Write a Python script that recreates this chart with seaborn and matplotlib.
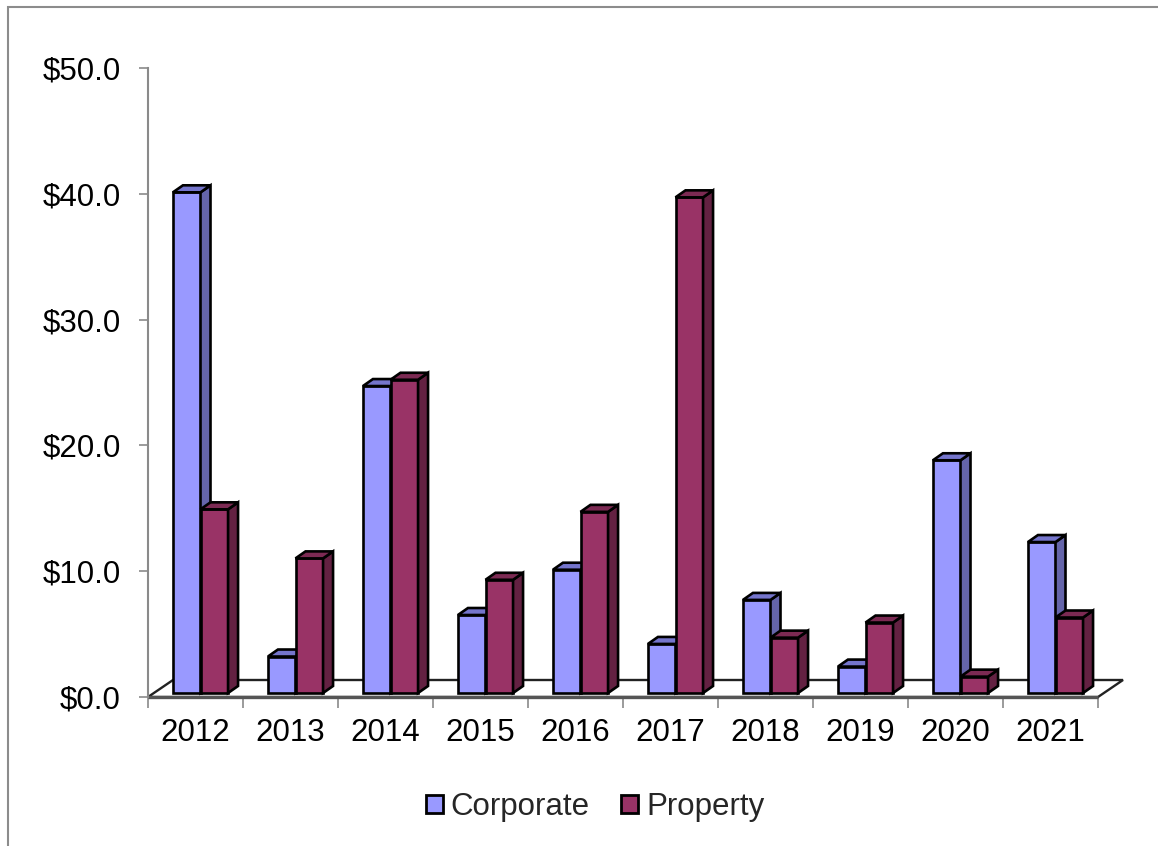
import numpy as np
import pandas as pd
import matplotlib
matplotlib.use("Agg")
import matplotlib.pyplot as plt
import seaborn as sns
from matplotlib.patches import Polygon, Rectangle, Patch
from matplotlib.ticker import FuncFormatter

# ---- data ----
years = ["2012", "2013", "2014", "2015", "2016", "2017", "2018", "2019", "2020", "2021"]
corporate = [39.8, 2.9, 24.4, 6.2, 9.8, 3.9, 7.4, 2.1, 18.5, 12.0]
property_ = [14.6, 10.7, 24.9, 9.0, 14.4, 39.4, 4.4, 5.6, 1.3, 6.0]
series_names = ["Corporate", "Property"]
y_ticks = [0, 10, 20, 30, 40, 50]

front_colors = {"Corporate": "#9999FF", "Property": "#993366"}
side_colors = {"Corporate": "#6565AA", "Property": "#632142"}
top_colors = {"Corporate": "#7575CC", "Property": "#7C2A53"}

df = pd.DataFrame({
    "Year": years * 2,
    "Series": [series_names[0]] * len(years) + [series_names[1]] * len(years),
    "Value": corporate + property_,
})

sns.set_theme(style="white")
plt.rcParams["font.family"] = ["Liberation Sans", "DejaVu Sans"]

W, H = 1158, 846
fig = plt.figure(figsize=(W / 100, H / 100), dpi=100)
ax_left, ax_bottom, ax_w, ax_h = 148, 697, 950, 629
ax = fig.add_axes([ax_left / W, (H - ax_bottom) / H, ax_w / W, ax_h / H])

EDGE_LW = 1.9

sns.barplot(data=df, x="Year", y="Value", hue="Series", hue_order=series_names,
            palette=front_colors, width=0.58, saturation=1, errorbar=None,
            edgecolor="black", linewidth=EDGE_LW, legend=False, ax=ax)

ax.set_xlim(-0.5, len(years) - 0.5)
ax.set_ylim(y_ticks[0], y_ticks[-1])
ax.set_facecolor("none")

# pixel -> data conversions
xpp = (len(years)) / ax_w
ypp = (y_ticks[-1] - y_ticks[0]) / ax_h

# floor (3D base)
fdx, fdy = 25 * xpp, 17 * ypp
x0f, x1f = -0.5, len(years) - 0.5
floor = Polygon([(x0f, 0), (x1f, 0), (x1f + fdx, fdy), (x0f + fdx, fdy)],
                closed=True, facecolor="white", edgecolor="#222222",
                linewidth=1.7, zorder=1, clip_on=False)
ax.add_patch(floor)
ax.plot([x0f, x1f], [0, 0], color="#555555", linewidth=2.4, zorder=1.5,
        clip_on=False, solid_capstyle="butt")

# 3D bar faces
sx, sy = 5 * xpp, 4 * ypp
ddx, ddy = 10 * xpp, 7 * ypp
for i, (name, cont) in enumerate(zip(series_names, ax.containers)):
    z = 3 + i
    for rect in cont:
        x = rect.get_x() + sx
        w = rect.get_width()
        h = rect.get_height()
        rect.set_x(x)
        rect.set_y(sy)
        rect.set_zorder(z)
        rect.set_clip_on(False)
        rect.set_joinstyle("miter")
        base, top = sy, sy + h
        side = Polygon([(x + w, base), (x + w + ddx, base + ddy),
                        (x + w + ddx, top + ddy), (x + w, top)], closed=True,
                       facecolor=side_colors[name], edgecolor="black",
                       linewidth=EDGE_LW, zorder=z + 0.1, clip_on=False, joinstyle="miter")
        topf = Polygon([(x, top), (x + w, top), (x + w + ddx, top + ddy),
                        (x + ddx, top + ddy)], closed=True,
                       facecolor=top_colors[name], edgecolor="black",
                       linewidth=EDGE_LW, zorder=z + 0.2, clip_on=False, joinstyle="miter")
        ax.add_patch(side)
        ax.add_patch(topf)

# axes styling
for s in ["top", "right", "bottom"]:
    ax.spines[s].set_visible(False)
ax.spines["left"].set_color("#8a8a8a")
ax.spines["left"].set_linewidth(1.5)
ax.spines["left"].set_zorder(1.6)

ax.set_yticks(y_ticks)
ax.yaxis.set_major_formatter(FuncFormatter(lambda v, _: r"\$" + f"{v:.1f}"))
ax.tick_params(axis="y", left=True, length=6.5, width=1.2, color="#8a8a8a",
               direction="out", pad=13, labelsize=22.5, labelcolor="black")

ax.set_xticks(range(len(years)))
ax.set_xticklabels(years)
ax.set_xticks(np.arange(-0.5, len(years), 1.0), minor=True)
ax.tick_params(axis="x", which="major", bottom=True, length=0, pad=15,
               labelsize=22.5, labelcolor="black")
ax.tick_params(axis="x", which="minor", bottom=True, length=8, width=1.2,
               color="#8a8a8a", direction="out")
ax.set_xlabel("")
ax.set_ylabel("")
ax.grid(False)

# legend
handles = [Patch(facecolor=front_colors[n], edgecolor="black", linewidth=2.0, label=n)
           for n in series_names]
fig.legend(handles=handles, loc="center", bbox_to_anchor=(595 / W, 1 - 807 / H),
           ncol=2, frameon=False, fontsize=22.5, handlelength=0.55, handleheight=0.55,
           handletextpad=0.25, columnspacing=1.0)

# chart area border
fig.add_artist(Rectangle((8 / W, -0.1), 1.2, 1.1 - 7.5 / H, transform=fig.transFigure,
                         fill=False, edgecolor="#8c8c8c", linewidth=1.5))

fig.savefig("out.png", dpi=100)
